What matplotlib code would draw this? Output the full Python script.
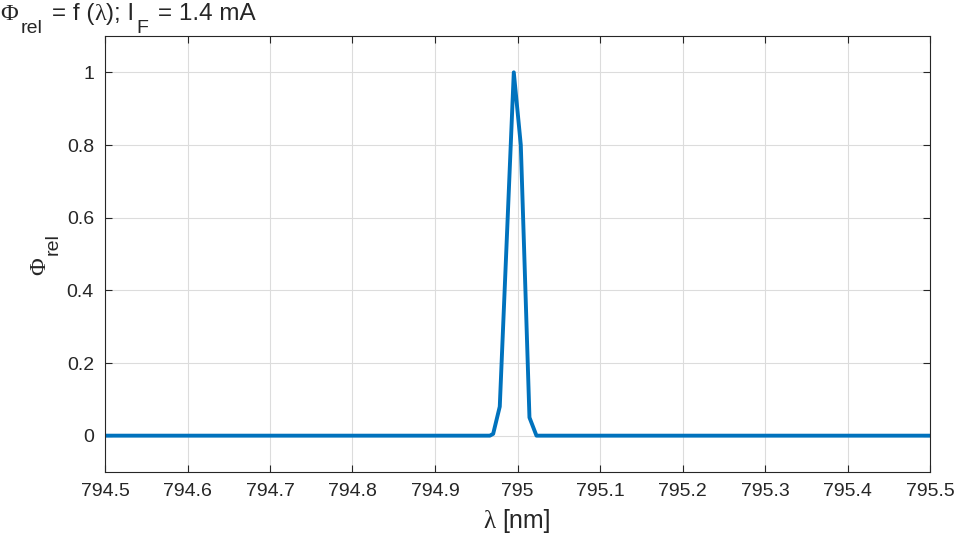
import numpy as np
import matplotlib.pyplot as plt
from matplotlib.ticker import FuncFormatter

# spectrum (wavelength in nm, relative flux)
wl = [794.5, 794.9665, 794.9705, 794.9785, 794.9955, 795.004, 795.0145, 795.023, 795.5]
phi = [0, 0, 0.005, 0.08, 1.0, 0.8, 0.05, 0, 0]

xticks = np.round(np.arange(794.5, 795.51, 0.1), 1)
yticks = [0, 0.2, 0.4, 0.6, 0.8, 1]

plt.rcParams['font.family'] = ['Liberation Sans', 'DejaVu Sans']

txt = '#262626'
W, H = 955, 541
fig = plt.figure(figsize=(W / 100, H / 100), dpi=100)
ax = fig.add_axes([105 / W, 1 - 472 / H, 825 / W, 436 / H])

ax.plot(wl, phi, color='#0072BD', lw=2.8, solid_joinstyle='round')

ax.set_xlim(794.5, 795.5)
ax.set_ylim(-0.1, 1.1)
ax.set_xticks(xticks)
ax.set_yticks(yticks)
fmt = FuncFormatter(lambda v, p: '%g' % round(v, 2))
ax.xaxis.set_major_formatter(fmt)
ax.yaxis.set_major_formatter(fmt)
ax.grid(True, color='#dcdcdc', lw=0.8)
ax.set_axisbelow(True)
ax.tick_params(direction='in', top=True, right=True, labelsize=14,
               colors=txt, length=5, pad=8)
for s in ax.spines.values():
    s.set_color(txt)
    s.set_linewidth(0.8)

renderer = fig.canvas.get_renderer()


def rich(x, y, pieces, rot=0, center=False):
    # pieces: (text, size, drop_px, serif?, gap_before_px); x, y in pixels from top-left
    texts = []
    pos = 0
    for s, size, drop, serif, gap in pieces:
        pos += gap
        fam = ['Liberation Serif'] if serif else ['Liberation Sans']
        if rot == 0:
            t = fig.text((x + pos) / W, 1 - (y + drop) / H, s, fontsize=size, family=fam,
                         color=txt, ha='left', va='baseline')
            pos = t.get_window_extent(renderer).x1 - x
        else:
            t = fig.text((x + drop) / W, 1 - (y - pos) / H, s, fontsize=size, family=fam,
                         color=txt, ha='left', va='baseline', rotation=90,
                         rotation_mode='anchor')
            pos = t.get_window_extent(renderer).y1 - (H - y)
        texts.append(t)
    if center:
        for t in texts:
            px, py = t.get_position()
            if rot == 0:
                t.set_position((px - pos / 2 / W, py))
            else:
                t.set_position((px, py - pos / 2 / H))
    return texts


# title
rich(0, 20, [('\u03a6', 17.5, 0, True, 0), ('rel', 14, 13, False, 3),
             ('= f (', 17.5, 0, False, 9), ('\u03bb', 17.5, 0, True, 0),
             ('); I', 17.5, 0, False, 0), ('F', 14, 13, False, 3),
             ('= 1.4 mA', 17.5, 0, False, 9)])

# x label
rich(517, 528, [('\u03bb', 18, 0, True, 0), ('[nm]', 18, 0, False, 7)], center=True)

# y label (rotated)
rich(45, 254, [('\u03a6', 17.5, 0, True, 0), ('rel', 14, 13, False, 3)], rot=90, center=True)

fig.savefig('out.png', dpi=100)
